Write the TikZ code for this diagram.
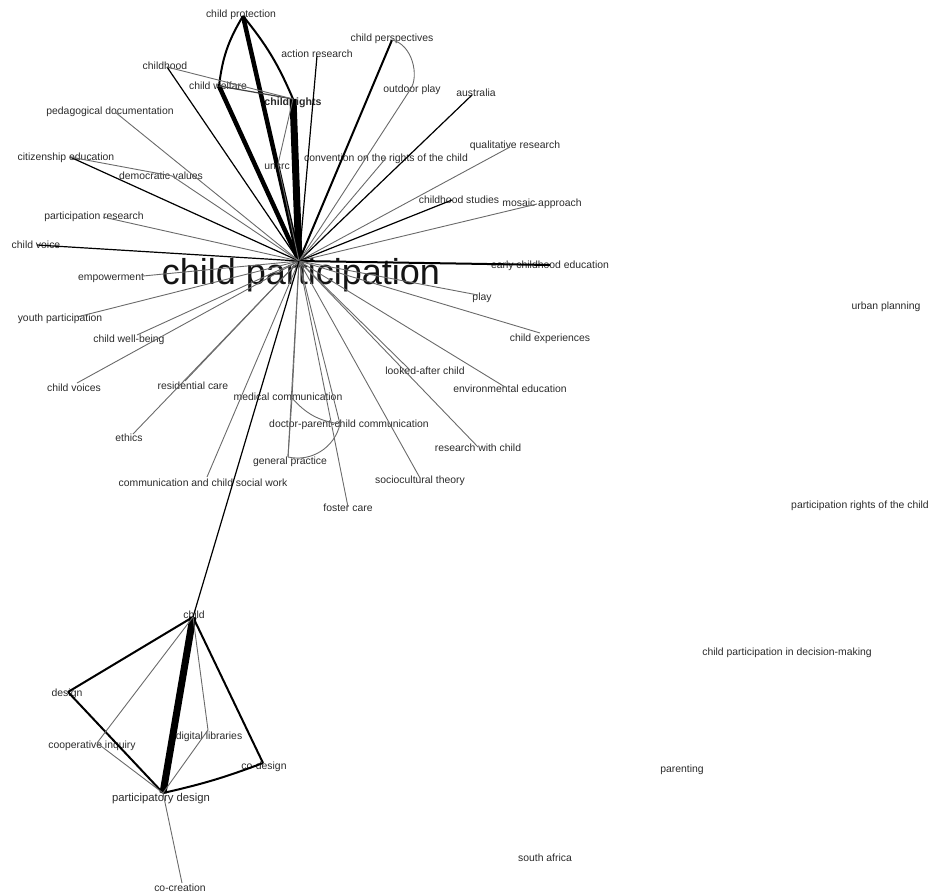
\documentclass[tikz,border=0pt]{standalone}
\usepackage{fontspec}
\setmainfont{Liberation Sans}
\definecolor{edgegray}{HTML}{6A6A6A}
\definecolor{txt}{HTML}{2A2A2A}
\begin{document}
\begin{tikzpicture}[x=1pt,y=-1pt,
  lbl/.style={font=\fontsize{10.4}{12}\selectfont, text=txt, inner sep=0pt, text height=7.4pt, text depth=2pt, yshift=-2pt},
  thin/.style={draw=edgegray, line width=0.9pt},
  mid/.style={draw=black, line width=1.2pt},
  boldedge/.style={draw=black, line width=2pt},
  heavy/.style={draw=black, line width=4.5pt},
  xheavy/.style={draw=black, line width=7pt}]
\useasboundingbox (0,0) rectangle (939,896);

% ---------- edge end points ----------
\coordinate (cp)    at (299,261);
\coordinate (prot)  at (243,16);
\coordinate (act)   at (317,56);
\coordinate (chood) at (167,67);
\coordinate (welf)  at (219,86);
\coordinate (rights) at (293,99);
\coordinate (persp) at (392,40);
\coordinate (outd)  at (410,90);
\coordinate (aus)   at (472,95);
\coordinate (qual)  at (510,147);
\coordinate (conv)  at (386,158);
\coordinate (uncrc) at (278,164);
\coordinate (cstud) at (452,200);
\coordinate (mosaic) at (537,204);
\coordinate (ece)   at (550,265);
\coordinate (play)  at (478,295);
\coordinate (cexp)  at (540,333);
\coordinate (looked) at (410,370);
\coordinate (env)   at (505,387);
\coordinate (rwc)   at (478,447);
\coordinate (socio) at (420,478);
\coordinate (foster) at (348,507);
\coordinate (doctor) at (340,424);
\coordinate (medic) at (292,398);
\coordinate (gp)    at (288,457);
\coordinate (csw)   at (207,477);
\coordinate (ethics) at (133,434);
\coordinate (resid) at (185,381);
\coordinate (cvoices) at (77,383);
\coordinate (cwb)   at (137,335);
\coordinate (youth) at (77,317);
\coordinate (empow) at (143,276);
\coordinate (cvoice) at (37,245);
\coordinate (pres)  at (103,217);
\coordinate (citiz) at (70,157);
\coordinate (demo)  at (172,176);
\coordinate (peda)  at (115,112);
\coordinate (child) at (193,617);
\coordinate (design) at (68,692);
\coordinate (coop)  at (97,743);
\coordinate (diglib) at (208,730);
\coordinate (codes) at (263,763);
\coordinate (pd)    at (163,793);
\coordinate (cocre) at (182,883);

% ---------- labels ----------
\node[lbl] (prot-t)   at (241,13)  {child protection};
\node[lbl] (act-t)    at (317,53)  {action research};
\node[lbl] (chood-t)  at (165,65)  {childhood};
\node[lbl] (welf-t)   at (218,85)  {child welfare};
\node[lbl, font=\fontsize{10.6}{12}\selectfont\bfseries] (rights-t) at (293,101) {child rights};
\node[lbl] (persp-t)  at (392,37)  {child perspectives};
\node[lbl] (outd-t)   at (412,88)  {outdoor play};
\node[lbl] (aus-t)    at (476,92)  {australia};
\node[lbl] (qual-t)   at (515,144) {qualitative research};
\node[lbl] (conv-t)   at (386,157) {convention on the rights of the child};
\node[lbl] (uncrc-t)  at (277,165) {uncrc};
\node[lbl] (cstud-t)  at (459,199) {childhood studies};
\node[lbl] (mosaic-t) at (542,202) {mosaic approach};
\node[lbl] (ece-t)    at (550,264) {early childhood education};
\node[lbl] (play-t)   at (482,296) {play};
\node[lbl] (cexp-t)   at (550,337) {child experiences};
\node[lbl] (looked-t) at (425,370) {looked-after child};
\node[lbl] (env-t)    at (510,388) {environmental education};
\node[lbl] (rwc-t)    at (478,447) {research with child};
\node[lbl] (socio-t)  at (420,479) {sociocultural theory};
\node[lbl] (foster-t) at (348,507) {foster care};
\node[lbl] (doctor-t) at (349,423) {doctor-parent-child communication};
\node[lbl] (medic-t)  at (288,396) {medical communication};
\node[lbl] (gp-t)     at (290,460) {general practice};
\node[lbl] (csw-t)    at (203,482) {communication and child social work};
\node[lbl] (ethics-t) at (129,437) {ethics};
\node[lbl] (resid-t)  at (193,385) {residential care};
\node[lbl] (cvoices-t) at (74,387) {child voices};
\node[lbl] (cwb-t)    at (129,338) {child well-being};
\node[lbl] (youth-t)  at (60,317)  {youth participation};
\node[lbl] (empow-t)  at (111,276) {empowerment};
\node[lbl] (cvoice-t) at (36,244)  {child voice};
\node[lbl] (pres-t)   at (94,215)  {participation research};
\node[lbl] (citiz-t)  at (66,156)  {citizenship education};
\node[lbl] (demo-t)   at (161,175) {democratic values};
\node[lbl] (peda-t)   at (110,110) {pedagogical documentation};
\node[lbl] (child-t)  at (194,614) {child};
\node[lbl] (design-t) at (67,692)  {design};
\node[lbl] (coop-t)   at (92,744)  {cooperative inquiry};
\node[lbl] (diglib-t) at (209,735) {digital libraries};
\node[lbl] (codes-t)  at (264,765) {co-design};
\node[lbl, font=\fontsize{11.3}{13}\selectfont] (pd-t) at (161,797) {participatory design};
\node[lbl] (cocre-t)  at (180,887) {co-creation};
\node[lbl] (urban-t)  at (886,305) {urban planning};
\node[lbl] (prc-t)    at (860,504) {participation rights of the child};
\node[lbl] (cpdm-t)   at (787,651) {child participation in decision-making};
\node[lbl] (parent-t) at (682,768) {parenting};
\node[lbl] (safr-t)   at (545,857) {south africa};
\node[font=\fontsize{36}{40}\selectfont, text=black!92, inner sep=0pt, anchor=base] (cp-t) at (301,284) {child participation};

% ---------- connectors from the hub ----------
\draw[xheavy] (cp) -- (rights);
\draw[heavy]  (cp) -- (prot);
\draw[heavy]  (cp) -- (welf);
\draw[mid]    (cp) -- (chood);
\draw[mid]    (cp) -- (act);
\draw[boldedge] (cp) -- (persp);
\draw[thin]   (cp) -- (outd);
\draw[mid]    (cp) -- (aus);
\draw[thin]   (cp) -- (qual);
\draw[thin]   (cp) -- (conv);
\draw[thin]   (cp) -- (uncrc);
\draw[mid]    (cp) -- (cstud);
\draw[thin]   (cp) -- (mosaic);
\draw[boldedge] (cp) -- (ece);
\draw[thin]   (cp) -- (play);
\draw[thin]   (cp) -- (cexp);
\draw[thin]   (cp) -- (looked);
\draw[thin]   (cp) -- (env);
\draw[thin]   (cp) -- (rwc);
\draw[thin]   (cp) -- (socio);
\draw[thin]   (cp) -- (foster);
\draw[thin]   (cp) -- (doctor);
\draw[thin]   (cp) -- (medic);
\draw[thin]   (cp) -- (gp);
\draw[thin]   (cp) -- (csw);
\draw[thin]   (cp) -- (ethics);
\draw[thin]   (cp) -- (resid);
\draw[thin]   (cp) -- (cvoices);
\draw[thin]   (cp) -- (cwb);
\draw[thin]   (cp) -- (youth);
\draw[thin]   (cp) -- (empow);
\draw[mid]    (cp) -- (cvoice);
\draw[thin]   (cp) -- (pres);
\draw[mid]    (cp) -- (citiz);
\draw[thin]   (cp) -- (demo);
\draw[thin]   (cp) -- (peda);
\draw[mid]    (cp) -- (child);

% ---------- connectors among the other keywords ----------
\draw[boldedge] (prot) to[bend right=12] (welf);
\draw[boldedge] (prot) to[bend left=8] (rights);
\draw[mid, draw=black!75] (welf) -- (rights);
\draw[thin] (chood) -- (rights);
\draw[thin] (rights) -- (uncrc);
\draw[thin] (citiz) -- (demo);
\draw[thin] (persp) .. controls (412,44) and (420,76) .. (outd);
\draw[thin] (medic) to[bend right=20] (doctor);
\draw[thin] (doctor) to[bend left=45] (gp);
\draw[thin] (medic) -- (gp);

% ---------- participatory design cluster ----------
\draw[xheavy] (child) -- (pd);
\draw[boldedge] (child) -- (design);
\draw[boldedge] (child) -- (codes);
\draw[boldedge] (design) -- (pd);
\draw[boldedge] (codes) to[bend left=4] (pd);
\draw[thin] (child) -- (coop);
\draw[thin] (child) -- (diglib);
\draw[thin] (coop) -- (pd);
\draw[thin] (diglib) -- (pd);
\draw[thin] (pd) -- (cocre);
\end{tikzpicture}
\end{document}
